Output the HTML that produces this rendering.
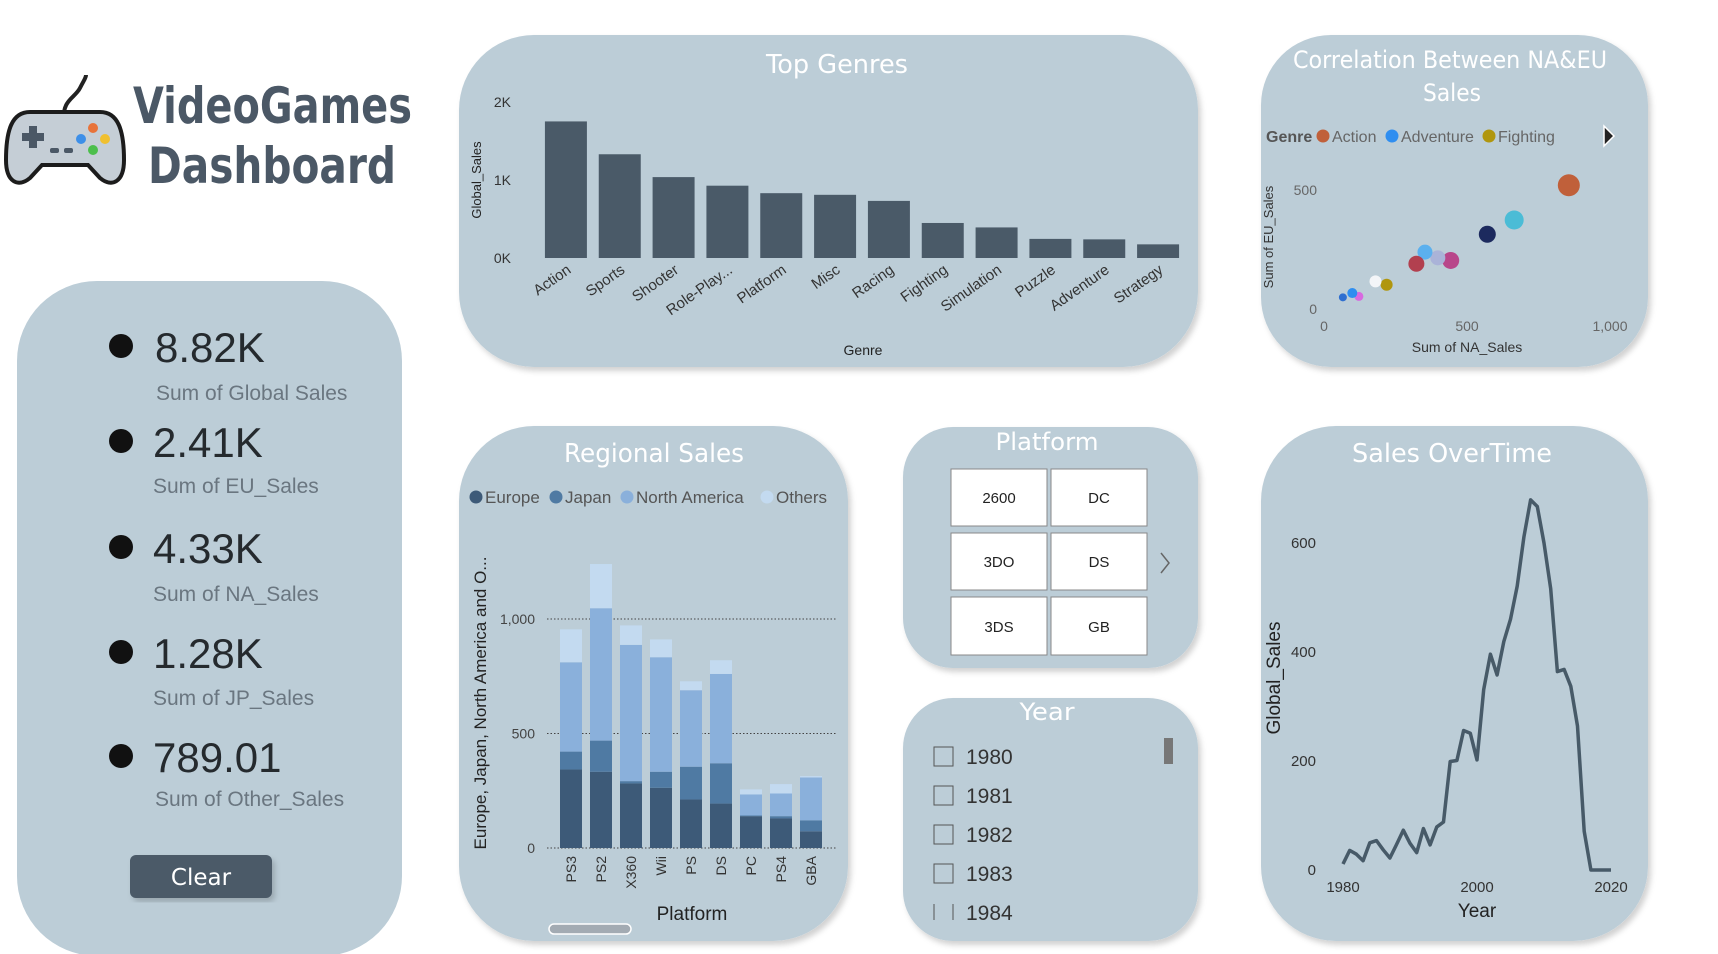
<!DOCTYPE html>
<html><head><meta charset="utf-8"><style>
html,body{margin:0;padding:0;background:#fff;width:1718px;height:954px;overflow:hidden}
svg text{font-family:"Liberation Sans","DejaVu Sans",sans-serif}
.ttl{font-family:"DejaVu Sans",sans-serif;fill:#fff;font-weight:normal}
</style></head><body>
<svg id="root" width="1718" height="954" viewBox="0 0 1718 954" xmlns="http://www.w3.org/2000/svg">
<defs>
<filter id="sh" x="-5%" y="-5%" width="115%" height="115%"><feDropShadow dx="3" dy="4" stdDeviation="3" flood-color="#000" flood-opacity="0.18"/></filter>
</defs>
<g>
 <path d="M64 120 C62 100 75 98 80 88 C84 80 86 78 86 75" fill="none" stroke="#222" stroke-width="4"/>
 <path d="M30 112 L100 112 C118 112 124 130 124 160 C124 182 112 188 100 178 L88 165 L42 165 L30 178 C18 188 6 182 6 160 C6 130 12 112 30 112 Z" fill="#c5ced6" stroke="#1c1c1c" stroke-width="4"/>
 <rect x="22" y="133" width="22" height="8" fill="#4b5866"/><rect x="29" y="126" width="8" height="22" fill="#4b5866"/>
 <rect x="50" y="148" width="9" height="5" rx="2" fill="#4b5866"/><rect x="64" y="148" width="9" height="5" rx="2" fill="#4b5866"/>
 <circle cx="93" cy="128" r="5" fill="#e8733a"/><circle cx="81" cy="139" r="5" fill="#3d8fe8"/><circle cx="105" cy="139" r="5" fill="#f0c030"/><circle cx="93" cy="150" r="5" fill="#4cbf4c"/>
</g>
<text x="133" y="123" font-size="50" font-weight="bold" fill="#4b5866" textLength="279" lengthAdjust="spacingAndGlyphs" style="font-family:'DejaVu Sans',sans-serif">VideoGames</text>
<text x="148" y="183" font-size="50" font-weight="bold" fill="#4b5866" textLength="248" lengthAdjust="spacingAndGlyphs" style="font-family:'DejaVu Sans',sans-serif">Dashboard</text>

<g>
 <rect x="17" y="281" width="385" height="675" rx="80" fill="#bccdd7"/>
 <g><circle cx="121" cy="346" r="12" fill="#111"/><text x="155" y="362" font-size="42" fill="#252a2e">8.82K</text><text x="156" y="400" font-size="21" fill="#6a7680">Sum of Global Sales</text></g>
 <g><circle cx="121" cy="441" r="12" fill="#111"/><text x="153" y="457" font-size="42" fill="#252a2e">2.41K</text><text x="153" y="493" font-size="21" fill="#6a7680">Sum of EU_Sales</text></g>
 <g><circle cx="121" cy="547" r="12" fill="#111"/><text x="153" y="563" font-size="42" fill="#252a2e">4.33K</text><text x="153" y="601" font-size="21" fill="#6a7680">Sum of NA_Sales</text></g>
 <g><circle cx="121" cy="652" r="12" fill="#111"/><text x="153" y="668" font-size="42" fill="#252a2e">1.28K</text><text x="153" y="705" font-size="21" fill="#6a7680">Sum of JP_Sales</text></g>
 <g><circle cx="121" cy="756" r="12" fill="#111"/><text x="153" y="772" font-size="42" fill="#252a2e">789.01</text><text x="155" y="806" font-size="21" fill="#6a7680">Sum of Other_Sales</text></g>
 <g><rect x="130" y="855" width="142" height="43" rx="6" fill="#4b5a68" filter="url(#sh)"/><text x="201" y="885" font-size="23" fill="#fff" text-anchor="middle" style="font-family:'DejaVu Sans',sans-serif">Clear</text></g>
</g>

<rect x="459" y="35" width="739" height="332" rx="75" fill="#bccdd7" filter="url(#sh)"/>
<rect x="1261" y="35" width="387" height="332" rx="70" fill="#bccdd7" filter="url(#sh)"/>
<rect x="459" y="426" width="389" height="515" rx="75" fill="#bccdd7" filter="url(#sh)"/>
<rect x="903" y="427" width="295" height="241" rx="50" fill="#bccdd7" filter="url(#sh)"/>
<rect x="903" y="698" width="295" height="243" rx="50" fill="#bccdd7" filter="url(#sh)"/>
<rect x="1261" y="426" width="387" height="515" rx="75" fill="#bccdd7" filter="url(#sh)"/>

<text class="ttl" x="837" y="73" font-size="26" text-anchor="middle" textLength="142" lengthAdjust="spacingAndGlyphs">Top Genres</text>
<text class="ttl" x="1450" y="68" font-size="24" text-anchor="middle" textLength="314" lengthAdjust="spacingAndGlyphs">Correlation Between NA&amp;EU</text>
<text class="ttl" x="1452" y="101" font-size="24" text-anchor="middle" textLength="58" lengthAdjust="spacingAndGlyphs">Sales</text>
<text class="ttl" x="654" y="462" font-size="26" text-anchor="middle" textLength="180" lengthAdjust="spacingAndGlyphs">Regional Sales</text>
<text class="ttl" x="1047" y="450" font-size="24" text-anchor="middle" textLength="103" lengthAdjust="spacingAndGlyphs">Platform</text>
<text class="ttl" x="1047" y="720" font-size="24" text-anchor="middle" textLength="55" lengthAdjust="spacingAndGlyphs">Year</text>
<text class="ttl" x="1452" y="462" font-size="26" text-anchor="middle" textLength="200" lengthAdjust="spacingAndGlyphs">Sales OverTime</text>

<g>
 <g><rect x="951" y="469" width="96" height="57" fill="#fff" stroke="#888"/><text x="999" y="503" font-size="15" text-anchor="middle" fill="#222">2600</text></g>
 <g><rect x="1051" y="469" width="96" height="57" fill="#fff" stroke="#888"/><text x="1099" y="503" font-size="15" text-anchor="middle" fill="#222">DC</text></g>
 <g><rect x="951" y="533" width="96" height="57" fill="#fff" stroke="#888"/><text x="999" y="567" font-size="15" text-anchor="middle" fill="#222">3DO</text></g>
 <g><rect x="1051" y="533" width="96" height="57" fill="#fff" stroke="#888"/><text x="1099" y="567" font-size="15" text-anchor="middle" fill="#222">DS</text></g>
 <g><rect x="951" y="597" width="96" height="58" fill="#fff" stroke="#888"/><text x="999" y="632" font-size="15" text-anchor="middle" fill="#222">3DS</text></g>
 <g><rect x="1051" y="597" width="96" height="58" fill="#fff" stroke="#888"/><text x="1099" y="632" font-size="15" text-anchor="middle" fill="#222">GB</text></g>
 <path d="M1161 553 L1169 563 L1161 573" fill="none" stroke="#666" stroke-width="1.5"/>
</g>

<g>
 <g><rect x="934" y="747" width="19" height="19" fill="none" stroke="#555"/><text x="966" y="764" font-size="21" fill="#333">1980</text></g>
 <g><rect x="934" y="786" width="19" height="19" fill="none" stroke="#555"/><text x="966" y="803" font-size="21" fill="#333">1981</text></g>
 <g><rect x="934" y="825" width="19" height="19" fill="none" stroke="#555"/><text x="966" y="842" font-size="21" fill="#333">1982</text></g>
 <g><rect x="934" y="864" width="19" height="19" fill="none" stroke="#555"/><text x="966" y="881" font-size="21" fill="#333">1983</text></g>
 <g><path d="M934 920 L934 904 M953 904 L953 920" stroke="#555"/><text x="966" y="920" font-size="21" fill="#333">1984</text></g>
 <rect x="1164" y="738" width="9" height="26" fill="#777"/>
</g>

<g id="genres"></g>
<g id="scatter"></g>
<g id="regional"></g>
<g id="timeline"></g>
<rect x="549" y="924" width="82" height="10" rx="5" fill="#a3abb3" stroke="#fff" stroke-width="1.5"/>
</svg>
<script>
const genreCats = ["Action","Sports","Shooter","Role-Play...","Platform","Misc","Racing","Fighting","Simulation","Puzzle","Adventure","Strategy"];
const genreSales = [1751,1330,1037,927,831,810,732,449,392,245,239,175];
const genreTicks = [0,1000,2000];
const genreTickLabels = ["0K","1K","2K"];
const scatterNA = [856,665,571,443,398,353,323,219,180,122,99,66];
const scatterEU = [520,374,314,204,215,239,190,102,116,53,67,49];
const scatterColors = ["#c0603a","#4bbcd6","#1c2a5e","#b8468a","#aab3d8","#5bb0ee","#b2404f","#b0960e","#f3f5f8","#d86ae0","#2f8ef0","#2f6fd0"];
const scatterSize = [11,9.5,8.5,8.5,7.5,7.5,8,6,6,4.5,5,4];
const scatterXTicks = [0,500,1000];
const scatterXLabels = ["0","500","1,000"];
const scatterYTicks = [0,500];
const platforms = ["PS3","PS2","X360","Wii","PS","DS","PC","PS4","GBA"];
const europe = [343,333,282,263,212,194,139,129,73];
const japan = [78,136,10,70,143,176,3,10,48];
const northAmerica = [390,578,595,500,334,390,92,99,187];
const others = [144,193,85,78,39,60,22,41,6];
const regionalTicks = [0,500,1000];
const regionalTickLabels = ["0","500","1,000"];
const years = [1980,1981,1982,1983,1984,1985,1986,1987,1988,1989,1990,1991,1992,1993,1994,1995,1996,1997,1998,1999,2000,2001,2002,2003,2004,2005,2006,2007,2008,2009,2010,2011,2012,2013,2014,2015,2016,2017,2020];
const globalSales = [11,36,29,17,50,54,37,22,47,73,49,32,76,46,79,88,199,201,256,251,202,331,396,358,419,460,521,611,679,667,600,516,364,368,337,264,71,0,0];
const timeYTicks = [0,200,400,600];
const timeXTicks = [1980,2000,2020];

const NS="http://www.w3.org/2000/svg";
function mk(parent,tag,attrs,txt){const e=document.createElementNS(NS,tag);for(const k in attrs)e.setAttribute(k,attrs[k]);if(txt!==undefined)e.textContent=txt;parent.appendChild(e);return e;}

(function(){
 const g=document.getElementById('genres');
 const x0=539,x1=1185,y0=258,yTop=102,maxV=2000;
 const band=(x1-x0)/genreCats.length,bw=band*0.78;
 const y=v=>y0-(v/maxV)*(y0-yTop);
 genreTicks.forEach((t,i)=>{const e=mk(g,'text',{x:511,y:y(t)+5,'font-size':14,fill:'#333','text-anchor':'end'},genreTickLabels[i]);
  
  });
 genreCats.forEach((c,i)=>{
  const bx=x0+i*band+(band-bw)/2;
  const r=mk(g,'rect',{x:bx,y:y(genreSales[i]),width:bw,height:y0-y(genreSales[i]),fill:'#4a5a68'});
  
  
  const cx=bx+bw/2+6;
  const t=mk(g,'text',{x:cx,y:272,'font-size':15,fill:'#333','text-anchor':'end',transform:`rotate(-35 ${cx} 272)`},c);
  
  
 });
 const yt=mk(g,'text',{x:481,y:180,'font-size':13,fill:'#222','text-anchor':'middle',transform:'rotate(-90 481 180)'},'Global_Sales');
 
 
 const xt=mk(g,'text',{x:863,y:355,'font-size':14,fill:'#222','text-anchor':'middle'},'Genre');
 
 
})();

(function(){
 const g=document.getElementById('scatter');
 const X=v=>1324+v*(286/1000), Y=v=>309-v*(119/500);
 const lg=mk(g,'g',{});
 
 
 mk(lg,'text',{x:1266,y:142,'font-size':16,'font-weight':'bold',fill:'#555'},'Genre');
 [["Action","#c0603a",1323],["Adventure","#2f8ef0",1392],["Fighting","#b0960e",1489]].forEach(a=>{
  mk(lg,'circle',{cx:a[2],cy:136,r:6.5,fill:a[1]});mk(lg,'text',{x:a[2]+9,y:142,'font-size':16,fill:'#666'},a[0]);});
 mk(lg,'path',{d:'M1604 126 L1614 136 L1604 146 Z',fill:'#222',stroke:'#fff','stroke-width':1.5});
 scatterXTicks.forEach((t,i)=>{const e=mk(g,'text',{x:X(t),y:331,'font-size':14,fill:'#666','text-anchor':'middle'},scatterXLabels[i]);
  
  });
 scatterYTicks.forEach(t=>{const e=mk(g,'text',{x:1317,y:Y(t)+5,'font-size':14,fill:'#666','text-anchor':'end'},String(t));
  
  });
 scatterNA.forEach((v,i)=>{const c=mk(g,'circle',{cx:X(v),cy:Y(scatterEU[i]),r:scatterSize[i],fill:scatterColors[i]});
  
  });
 const a=mk(g,'text',{x:1273,y:237,'font-size':13,fill:'#333','text-anchor':'middle',transform:'rotate(-90 1273 237)'},'Sum of EU_Sales');
 
 
 const b=mk(g,'text',{x:1467,y:352,'font-size':14,fill:'#333','text-anchor':'middle'},'Sum of NA_Sales');
 
 
})();

(function(){
 const g=document.getElementById('regional');
 const y0=848,k=(848-619)/1000,x0=547,x1=837;
 const Y=v=>y0-v*k;
 const lg=mk(g,'g',{});
 
 
 [["Europe","#3d5a78",476],["Japan","#4f7aa3",556],["North America","#8ab0db",627],["Others","#c3daf0",767]].forEach(a=>{
  mk(lg,'circle',{cx:a[2],cy:497,r:6.5,fill:a[1]});mk(lg,'text',{x:a[2]+9,y:503,'font-size':17,fill:'#555'},a[0]);});
 regionalTicks.forEach((t,i)=>{
  const l=mk(g,'line',{x1:x0,x2:x1,y1:Y(t),y2:Y(t),stroke:'#444','stroke-width':1,'stroke-dasharray':'1.5 2'});
  
  
  const e=mk(g,'text',{x:535,y:Y(t)+5,'font-size':14,fill:'#444','text-anchor':'end'},regionalTickLabels[i]);
  
  
 });
 const band=30,bw=22,series=[europe,japan,northAmerica,others],cols=["#3d5a78","#4f7aa3",'#8ab0db','#c3daf0'];
 platforms.forEach((p,i)=>{
  const bx=x0+13+i*band;let acc=0;
  series.forEach((s,j)=>{const r=mk(g,'rect',{x:bx,y:Y(acc+s[i]),width:bw,height:s[i]*k,fill:cols[j]});
   
   
   acc+=s[i];});
  const cx=bx+bw/2+5;
  const t=mk(g,'text',{x:cx,y:856,'font-size':14,fill:'#333','text-anchor':'end',transform:`rotate(-90 ${cx} 856)`},p);
  
  
 });
 const yt=mk(g,'text',{x:486,y:703,'font-size':17,fill:'#222','text-anchor':'middle',transform:'rotate(-90 486 703)'},'Europe, Japan, North America and O...');
 
 
 const xt=mk(g,'text',{x:692,y:920,'font-size':19,fill:'#222','text-anchor':'middle'},'Platform');
 
 
})();

(function(){
 const g=document.getElementById('timeline');
 const X=v=>1343+(v-1980)*(268/40), Y=v=>870-v*(327/600);
 timeYTicks.forEach(t=>{const e=mk(g,'text',{x:1316,y:Y(t)+5,'font-size':15,fill:'#333','text-anchor':'end'},String(t));
  
  });
 timeXTicks.forEach(t=>{const e=mk(g,'text',{x:X(t),y:892,'font-size':15,fill:'#333','text-anchor':'middle'},String(t));
  
  });
 const d=years.map((yr,i)=>(i?'L':'M')+X(yr).toFixed(1)+' '+Y(globalSales[i]).toFixed(1)).join(' ');
 const p=mk(g,'path',{d:d,fill:'none',stroke:'#475a68','stroke-width':3.5,'stroke-linejoin':'round'});
 
 
 const yt=mk(g,'text',{x:1280,y:678,'font-size':19,fill:'#222','text-anchor':'middle',transform:'rotate(-90 1280 678)'},'Global_Sales');
 
 
 const xt=mk(g,'text',{x:1477,y:917,'font-size':19,fill:'#222','text-anchor':'middle'},'Year');
 
 
})();
</script>
</body></html>
